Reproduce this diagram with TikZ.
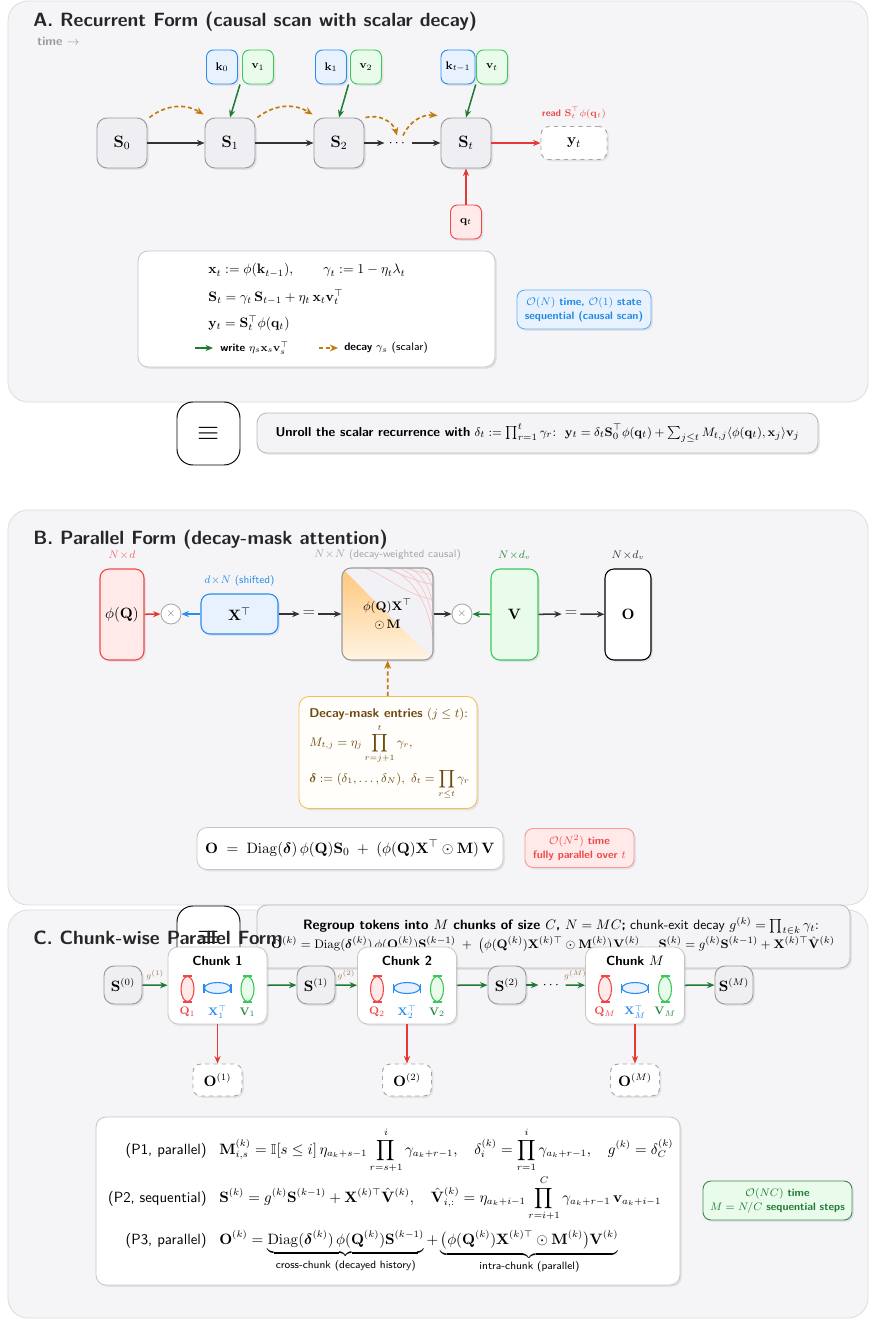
\documentclass[tikz,border=0pt]{standalone}
\usepackage{amsmath,amssymb,bm}
\usetikzlibrary{arrows.meta,shapes.geometric,shadows,calc}

\newdimen\upx \upx=0.73pt
\newcommand{\boldsans}{\sffamily\bfseries}
\newcommand{\plainsans}{\sffamily\mdseries\selectfont}
\newcommand{\fsz}[2]{\fontsize{#1}{#2}\selectfont}

\definecolor{panelfill}{HTML}{F5F5F8}
\definecolor{paneldraw}{HTML}{DCDCE1}
\definecolor{statefill}{HTML}{EFEFF3}
\definecolor{statedraw}{HTML}{9A9A9F}
\definecolor{bluedraw}{HTML}{2A8CF0}
\definecolor{bluefill}{HTML}{E8F2FE}
\definecolor{bluetext}{HTML}{1E88E5}
\definecolor{greendraw}{HTML}{3CC85A}
\definecolor{greenfill}{HTML}{E9FBEB}
\definecolor{greendark}{HTML}{1F7A33}
\definecolor{greenlbl}{HTML}{2E8C42}
\definecolor{reddraw}{HTML}{F04848}
\definecolor{redfill}{HTML}{FFE9E9}
\definecolor{redarrow}{HTML}{E53935}
\definecolor{orangearrow}{HTML}{C27A0E}
\definecolor{orangedraw}{HTML}{F5BE55}
\definecolor{orangetop}{HTML}{FFC77A}
\definecolor{orangebot}{HTML}{FFF4E4}
\definecolor{prodfill}{HTML}{F2F1F6}
\definecolor{pinkline}{HTML}{F7C4C4}
\definecolor{creamfill}{HTML}{FFFEFB}
\definecolor{browntext}{HTML}{6E4A12}
\definecolor{gbrown}{HTML}{9C7B45}
\definecolor{greytext}{HTML}{9A9A9A}
\definecolor{darkline}{HTML}{333333}
\definecolor{unrollfill}{HTML}{F4F4F6}

\tikzset{
  softshadow/.style={drop shadow={opacity=0.16, shadow xshift=1.3pt, shadow yshift=-1.3pt}},
  panel/.style={draw=paneldraw, fill=panelfill, line width=0.6pt, rounded corners=20\upx},
  paneltitle/.style={anchor=base west, inner sep=0pt, font=\boldsans\fsz{14}{17}, text=black!85},
  state/.style={draw=statedraw, fill=statefill, line width=0.7pt, rounded corners=10\upx,
    minimum width=50\upx, minimum height=50\upx, inner sep=0pt, softshadow, font=\fsz{12}{14}},
  kbox/.style={draw=bluedraw, fill=bluefill, line width=0.7pt, rounded corners=7\upx,
    minimum width=31\upx, minimum height=34\upx, inner sep=1pt, softshadow, font=\fsz{8.5}{10}},
  vbox/.style={kbox, draw=greendraw, fill=greenfill},
  qbox/.style={kbox, draw=reddraw, fill=redfill},
  outbox/.style={draw=gray!70, dashed, fill=white, line width=0.7pt, rounded corners=8\upx, softshadow, inner sep=0pt},
  card/.style={draw=gray!45, fill=white, line width=0.6pt, rounded corners=10\upx, softshadow},
  badge/.style={rounded corners=8\upx, line width=0.7pt, align=center, softshadow, inner sep=0pt,
    font=\boldsans\fsz{7.9}{10}},
  eqbox/.style={draw=black, fill=white, line width=0.7pt, rounded corners=16\upx,
    minimum width=63\upx, minimum height=63\upx, inner sep=0pt, font=\fsz{20}{24}},
  mat/.style={rounded corners=9\upx, line width=0.8pt, softshadow, inner sep=0pt, font=\fsz{10.5}{12}},
  timesnode/.style={circle, draw=gray!70, fill=white, line width=0.6pt, minimum size=20\upx, inner sep=0pt,
    font=\fsz{8}{9}, text=gray},
  dimlbl/.style={inner sep=0pt, font=\plainsans\fsz{7.7}{9}},
  flow/.style={draw=darkline, line width=1.1pt, -{Stealth[length=5.5pt,width=4.5pt]}},
  readarrow/.style={draw=redarrow, line width=1.1pt, -{Stealth[length=5.5pt,width=4.5pt]}},
  writearrow/.style={draw=greendark, line width=1.1pt, -{Stealth[length=5.5pt,width=4.5pt]}},
  bluearrow/.style={draw=bluedraw, line width=1.1pt, -{Stealth[length=5.5pt,width=4.5pt]}},
  decayarrow/.style={draw=orangearrow, line width=1.2pt, dash pattern=on 3pt off 2pt,
    -{Stealth[length=6pt,width=5pt]}},
  glabel/.style={font=\fsz{6.5}{8}, text=gbrown, inner sep=0pt},
  plabel/.style={anchor=base east, inner sep=0pt, font=\plainsans\fsz{10.8}{12}},
  pmath/.style={anchor=base west, inner sep=0pt, font=\fsz{10.5}{12}},
  mline/.style={inner sep=0pt, font=\fsz{10.2}{12}},
}

\begin{document}
\begin{tikzpicture}[x=0.73pt, y=-0.73pt]
\useasboundingbox (0,0) rectangle (870,1320);
\fill[white] (0,0) rectangle (870,1320);

% ================= Panel A: recurrent form =================
\draw[panel] (8,1) rectangle (868,402);
\node[paneltitle] (titleA) at (33,27) {A. Recurrent Form (causal scan with scalar decay)};
\node[anchor=west, inner sep=0pt, font=\boldsans\fsz{9}{10}, text=greytext] (timeA) at (37,41) {time $\rightarrow$};

\node[state] (S0) at (122,143) {$\mathbf S_0$};
\node[state] (S1) at (230,143) {$\mathbf S_1$};
\node[state] (S2) at (339,143) {$\mathbf S_2$};
\node[inner sep=3pt, font=\fsz{10}{12}] (dotsA) at (398,143) {$\cdots$};
\node[state] (St) at (466,143) {$\mathbf S_t$};
\node[outbox, minimum width=66\upx, minimum height=33\upx, font=\fsz{11}{13}] (yt) at (574,143) {$\mathbf y_t$};
\node[font=\boldsans\fsz{7}{8}, text=reddraw, inner sep=0pt] (readlbl) at (574,113) {read $\mathbf S_t^{\top}\phi(\mathbf q_t)$};

\node[kbox] (k0) at (222,67) {$\mathbf k_0$};
\node[vbox] (v1) at (258,67) {$\mathbf v_1$};
\node[kbox] (k1) at (331,67) {$\mathbf k_1$};
\node[vbox] (v2) at (366,67) {$\mathbf v_2$};
\node[kbox, minimum width=34\upx] (kt) at (458,67) {$\mathbf k_{t-1}$};
\node[vbox] (vt) at (492,67) {$\mathbf v_t$};
\node[qbox] (qt) at (466,222) {$\mathbf q_t$};

\draw[flow] (S0) -- (S1);
\draw[flow] (S1) -- (S2);
\draw[flow] (S2) -- (dotsA);
\draw[flow] (dotsA) -- (St);
\draw[readarrow] (St) -- (yt);
\draw[readarrow] (qt) -- (St);
\draw[writearrow] ($(k0.south east)!0.5!(v1.south west)$) -- (S1.north);
\draw[writearrow] ($(k1.south east)!0.5!(v2.south west)$) -- (S2.north);
\draw[writearrow] ($(kt.south east)!0.5!(vt.south west)$) -- (St.north);

\draw[decayarrow] ([xshift=2\upx]S0.north east) to[bend left=35] ([xshift=-1\upx,yshift=3\upx]S1.north west);
\draw[decayarrow] ([xshift=2\upx]S1.north east) to[bend left=35] ([xshift=-1\upx,yshift=3\upx]S2.north west);
\draw[decayarrow] ([xshift=1\upx]S2.north east) to[bend left=45] ([xshift=-1\upx]dotsA.north);
\draw[decayarrow] ([xshift=5\upx]dotsA.north) to[bend left=35] ([xshift=-3\upx,yshift=2\upx]St.north west);

% update equations
\node[card, minimum width=357\upx, minimum height=116\upx] (formA) at (316.5,309) {};
\node[mline, anchor=base west] (fa1) at (208,274) {$\mathbf x_t := \phi(\mathbf k_{t-1}),\qquad \gamma_t := 1-\eta_t\lambda_t$};
\node[mline, anchor=base west] (fa2) at (208,301) {$\mathbf S_t = \gamma_t\,\mathbf S_{t-1} + \eta_t\,\mathbf x_t\mathbf v_t^{\top}$};
\node[mline, anchor=base west] (fa3) at (208,327) {$\mathbf y_t = \mathbf S_t^{\top}\phi(\mathbf q_t)$};
\coordinate (lgw0) at (195,348);
\coordinate (lgw1) at (213,348);
\draw[writearrow, line width=1pt] (lgw0) -- (lgw1);
\node[anchor=west, inner sep=0pt, font=\fsz{8}{9}] (lgwt) at (220,348) {{\boldsans write} $\eta_s\mathbf x_s\mathbf v_s^{\top}$};
\coordinate (lgd0) at (319,348);
\coordinate (lgd1) at (338,348);
\draw[decayarrow, line width=1pt] (lgd0) -- (lgd1);
\node[anchor=west, inner sep=0pt, font=\fsz{8}{9}] (lgdt) at (344,348) {{\boldsans decay} $\gamma_s$ {\plainsans (scalar)}};

\node[badge, draw=bluedraw!70, fill=bluefill, text=bluetext, minimum width=134\upx, minimum height=39\upx] (badgeA) at (584,309.5)
  {$\mathcal O(N)$ time, $\mathcal O(1)$ state\\sequential (causal scan)};

% equivalence
\node[eqbox] (equivA) at (208.5,433.5) {$\equiv$};
\node[card, draw=gray!55, fill=unrollfill, minimum width=561\upx, minimum height=40\upx, font=\fsz{9.5}{11}] (unroll) at (537.5,433)
  {{\boldsans Unroll the scalar recurrence with} $\delta_t := \prod_{r=1}^{t}\gamma_r$:\ \ $\mathbf y_t = \delta_t\mathbf S_0^{\top}\phi(\mathbf q_t) + \sum_{j\le t} M_{t,j}\langle\phi(\mathbf q_t),\mathbf x_j\rangle\mathbf v_j$};

% ================= Panel B: parallel form =================
\draw[panel] (8,510) rectangle (868,905);
\node[paneltitle] (titleB) at (33,544) {B. Parallel Form (decay-mask attention)};

\node[mat, draw=reddraw, fill=redfill, minimum width=44\upx, minimum height=91\upx] (phiQ) at (122,614.5) {$\phi(\mathbf Q)$};
\node[timesnode] (times1) at (171,614) {$\times$};
\node[mat, draw=bluedraw, fill=bluefill, minimum width=77\upx, minimum height=40\upx, font=\fsz{11}{13}] (XT) at (239.5,614) {$\mathbf X^{\top}$};
\node[inner sep=2pt, font=\fsz{12}{14}, text=darkline] (eq1) at (309,614) {$=$};

% decay-weighted score matrix
\path[fill=prodfill, rounded corners=9\upx, softshadow] (342,568) rectangle (433,660);
\begin{scope}
  \clip[rounded corners=9\upx] (342,568) rectangle (433,660);
  \shade[top color=orangetop, bottom color=orangebot] (342,568) -- (342,660) -- (433,660) -- cycle;
  \foreach \a/\b in {372/662, 386/646, 398/628, 410/610, 420/592}
    \draw[pinkline, line width=0.5pt] (\a,566) to[out=0,in=90] (435,\b);
  \foreach \a/\b in {360/600, 380/585, 400/575}
    \draw[pinkline, line width=0.5pt] (\a,566) to[out=-20,in=170] (435,\b);
\end{scope}
\node[draw=statedraw, line width=0.8pt, rounded corners=9\upx, minimum width=91\upx, minimum height=92\upx,
  inner sep=0pt, align=center, font=\fsz{9.5}{13}] (prod) at (387.5,614) {$\phi(\mathbf Q)\mathbf X^{\top}$\\$\odot\,\mathbf M$};

\node[timesnode] (times2) at (462,614) {$\times$};
\node[mat, draw=greendraw, fill=greenfill, minimum width=47\upx, minimum height=91\upx, font=\fsz{11}{13}] (V) at (514.5,614.5) {$\mathbf V$};
\node[inner sep=2pt, font=\fsz{12}{14}, text=darkline] (eq2) at (571,614) {$=$};
\node[mat, draw=black, fill=white, minimum width=46\upx, minimum height=91\upx, font=\fsz{11}{13}] (Oout) at (628,614.5) {$\mathbf O$};

\node[dimlbl, text=reddraw!80] (dimQ) at (122,555) {$N\!\times\! d$};
\node[dimlbl, text=bluedraw] (dimX) at (239.5,581) {$d\!\times\! N$ (shifted)};
\node[dimlbl, text=gray!70] (dimP) at (387.5,555) {$N\!\times\! N$ (decay-weighted causal)};
\node[dimlbl, text=greenlbl] (dimV) at (514.5,555) {$N\!\times\! d_v$};
\node[dimlbl, text=darkline] (dimO) at (628,555) {$N\!\times\! d_v$};

\draw[readarrow] (phiQ) -- (times1);
\draw[bluearrow] (XT) -- (times1);
\draw[flow] (XT) -- (eq1);
\draw[flow] (eq1) -- (prod);
\draw[flow] (prod) -- (times2);
\draw[writearrow] (V) -- (times2);
\draw[flow] (V) -- (eq2);
\draw[flow] (eq2) -- (Oout);

\node[card, draw=orangedraw, fill=creamfill, minimum width=178\upx, minimum height=112\upx] (decaybox) at (388,752.5) {};
\node[anchor=base west, inner sep=0pt, font=\fsz{9.3}{10}, text=browntext] (db1) at (309,717) {{\boldsans Decay-mask entries} $(j\le t)$:};
\node[anchor=west, inner sep=0pt, font=\fsz{9.1}{10}, text=browntext] (db2) at (309,744) {$\displaystyle M_{t,j} = \eta_j\prod_{r=j+1}^{t}\gamma_r,$};
\node[anchor=base west, inner sep=0pt, font=\fsz{9.1}{10}, text=browntext] (db3) at (309,782) {$\displaystyle \boldsymbol\delta := (\delta_1,\dots,\delta_N),\ \delta_t = \prod_{r\le t}\gamma_r$};
\draw[decayarrow] (decaybox) -- (prod);

\node[card, minimum width=306\upx, minimum height=42\upx, font=\fsz{11.1}{13}] (formB) at (350,848.5)
  {$\mathbf O \;=\; \mathrm{Diag}(\boldsymbol\delta)\,\phi(\mathbf Q)\mathbf S_0 \;+\; (\phi(\mathbf Q)\mathbf X^{\top}\odot\mathbf M)\,\mathbf V$};
\node[badge, draw=reddraw!55, fill=redfill, text=reddraw, minimum width=109\upx, minimum height=39\upx] (badgeB) at (579.5,848)
  {$\mathcal O(N^2)$ time\\fully parallel over $t$};

% ================= Panel C: chunk-wise form =================
\draw[panel] (8,910) rectangle (868,1318);
\node[eqbox] (equivC) at (208.5,937.5) {$\equiv$};
\node[card, draw=gray!55, fill=unrollfill, minimum width=593\upx, minimum height=63\upx] (regroup) at (553.5,936.5) {};
\node[font=\fsz{9.9}{11}, inner sep=0pt] (rg1) at (561,926)
  {{\boldsans Regroup tokens into $M$ chunks of size $C$, $N = MC$;} {\plainsans chunk-exit decay} $g^{(k)} = \prod_{t\in k}\gamma_t$:};
\node[font=\fsz{9.5}{11}, inner sep=0pt] (rg2) at (553,945)
  {$\mathbf O^{(k)} = \mathrm{Diag}(\boldsymbol\delta^{(k)})\,\phi(\mathbf Q^{(k)})\mathbf S^{(k-1)} \;+\; \bigl(\phi(\mathbf Q^{(k)})\mathbf X^{(k)\top}\odot\mathbf M^{(k)}\bigr)\mathbf V^{(k)},\quad \mathbf S^{(k)} = g^{(k)}\mathbf S^{(k-1)} + \mathbf X^{(k)\top}\hat{\mathbf V}^{(k)}$};
\node[paneltitle] (titleC) at (33,944) {C. Chunk-wise Parallel Form};

\foreach \cx/\id/\sub/\ttl in {217.5/1/1/1, 407/2/2/2, 635/M/M/$M$} {
  \node[card, minimum width=99\upx, minimum height=77\upx] (chunk\id) at (\cx,985.5) {};
  \node[font=\boldsans\fsz{9.6}{10}, inner sep=0pt] (chunkt\id) at (\cx,961) {Chunk \ttl};
  \node[ellipse, draw=reddraw, fill=redfill, line width=0.8pt, minimum width=13\upx, minimum height=25\upx, inner sep=0pt] (cq\id) at (\cx-30,989) {};
  \draw[reddraw, line width=0.9pt] ([xshift=-4.5\upx]cq\id.north) -- ([xshift=4.5\upx]cq\id.north);
  \draw[reddraw, line width=0.9pt] ([xshift=-4.5\upx]cq\id.south) -- ([xshift=4.5\upx]cq\id.south);
  \node[ellipse, draw=bluedraw, fill=bluefill, line width=0.8pt, minimum width=26\upx, minimum height=11\upx, inner sep=0pt] (cx\id) at (\cx,988) {};
  \draw[bluedraw, line width=0.9pt] ([yshift=-4.5\upx]cx\id.west) -- ([yshift=4.5\upx]cx\id.west);
  \draw[bluedraw, line width=0.9pt] ([yshift=-4.5\upx]cx\id.east) -- ([yshift=4.5\upx]cx\id.east);
  \node[ellipse, draw=greendraw, fill=greenfill, line width=0.8pt, minimum width=13\upx, minimum height=25\upx, inner sep=0pt] (cv\id) at (\cx+30,989) {};
  \draw[greendraw, line width=0.9pt] ([xshift=-4.5\upx]cv\id.north) -- ([xshift=4.5\upx]cv\id.north);
  \draw[greendraw, line width=0.9pt] ([xshift=-4.5\upx]cv\id.south) -- ([xshift=4.5\upx]cv\id.south);
  \node[font=\fsz{8}{9.5}, text=reddraw, inner sep=0pt] (lq\id) at (\cx-30,1012) {$\mathbf Q_{\sub}$};
  \node[font=\fsz{8}{9.5}, text=bluedraw, inner sep=0pt] (lx\id) at (\cx,1012) {$\mathbf X_{\sub}^{\top}$};
  \node[font=\fsz{8}{9.5}, text=greenlbl, inner sep=0pt] (lv\id) at (\cx+30,1012) {$\mathbf V_{\sub}$};
  \node[outbox, minimum width=49\upx, minimum height=32\upx, font=\fsz{10.5}{12}] (Ochunk\id) at (\cx,1080) {$\mathbf O^{(\sub)}$};
  \draw[readarrow, line width=0.9pt] (chunk\id) -- (Ochunk\id);
}

\node[state, minimum width=38\upx, minimum height=38\upx, font=\fsz{10.5}{12}] (Sc0) at (123,985) {$\mathbf S^{(0)}$};
\node[state, minimum width=38\upx, minimum height=38\upx, font=\fsz{10.5}{12}] (Sc1) at (316,985) {$\mathbf S^{(1)}$};
\node[state, minimum width=38\upx, minimum height=38\upx, font=\fsz{10.5}{12}] (Sc2) at (507,985) {$\mathbf S^{(2)}$};
\node[state, minimum width=38\upx, minimum height=38\upx, font=\fsz{10.5}{12}] (ScM) at (734,985) {$\mathbf S^{(M)}$};
\node[inner sep=3pt, font=\fsz{10}{12}] (dotsC) at (552,985) {$\cdots$};

\draw[writearrow] (Sc0) -- node[glabel, above=3pt] {$g^{(1)}$} (chunk1);
\draw[writearrow] (chunk1) -- (Sc1);
\draw[writearrow] (Sc1) -- node[glabel, above=3pt] {$g^{(2)}$} (chunk2);
\draw[writearrow] (chunk2) -- (Sc2);
\draw[writearrow] (Sc2) -- (dotsC);
\draw[writearrow] (dotsC) -- node[glabel, above=3pt] {$g^{(M)}$} (chunkM);
\draw[writearrow] (chunkM) -- (ScM);

% three-phase equations
\node[card, minimum width=584\upx, minimum height=168\upx] (formC) at (388,1201) {};
\node[plabel] (p1l) at (207,1154) {(P1, parallel)};
\node[pmath] (p1f) at (219,1154)
  {$\displaystyle \mathbf M^{(k)}_{i,s} = \mathbb I[s\le i]\,\eta_{a_k+s-1}\prod_{r=s+1}^{i}\gamma_{a_k+r-1},\quad \delta^{(k)}_i = \prod_{r=1}^{i}\gamma_{a_k+r-1},\quad g^{(k)} = \delta^{(k)}_C$};
\node[plabel] (p2l) at (207,1202) {(P2, sequential)};
\node[pmath] (p2f) at (219,1202)
  {$\displaystyle \mathbf S^{(k)} = g^{(k)}\mathbf S^{(k-1)} + \mathbf X^{(k)\top}\hat{\mathbf V}^{(k)},\quad \hat{\mathbf V}^{(k)}_{i,:} = \eta_{a_k+i-1}\prod_{r=i+1}^{C}\gamma_{a_k+r-1}\,\mathbf v_{a_k+i-1}$};
\node[plabel] (p3l) at (207,1244) {(P3, parallel)};
\node[pmath] (p3f) at (219,1244)
  {$\displaystyle \mathbf O^{(k)} = \underbrace{\mathrm{Diag}(\boldsymbol\delta^{(k)})\,\phi(\mathbf Q^{(k)})\mathbf S^{(k-1)}}_{\text{\plainsans\fsz{7.8}{9}cross-chunk (decayed history)}} + \underbrace{\bigl(\phi(\mathbf Q^{(k)})\mathbf X^{(k)\top}\odot\mathbf M^{(k)}\bigr)\mathbf V^{(k)}}_{\text{\plainsans\fsz{7.8}{9}intra-chunk (parallel)}}$};

\node[badge, draw=greendark!85, fill=greenfill, text=greendark, minimum width=149\upx, minimum height=39\upx] (badgeC) at (777.5,1200.5)
  {$\mathcal O(NC)$ time\\$M = N/C$ sequential steps};
\end{tikzpicture}
\end{document}
